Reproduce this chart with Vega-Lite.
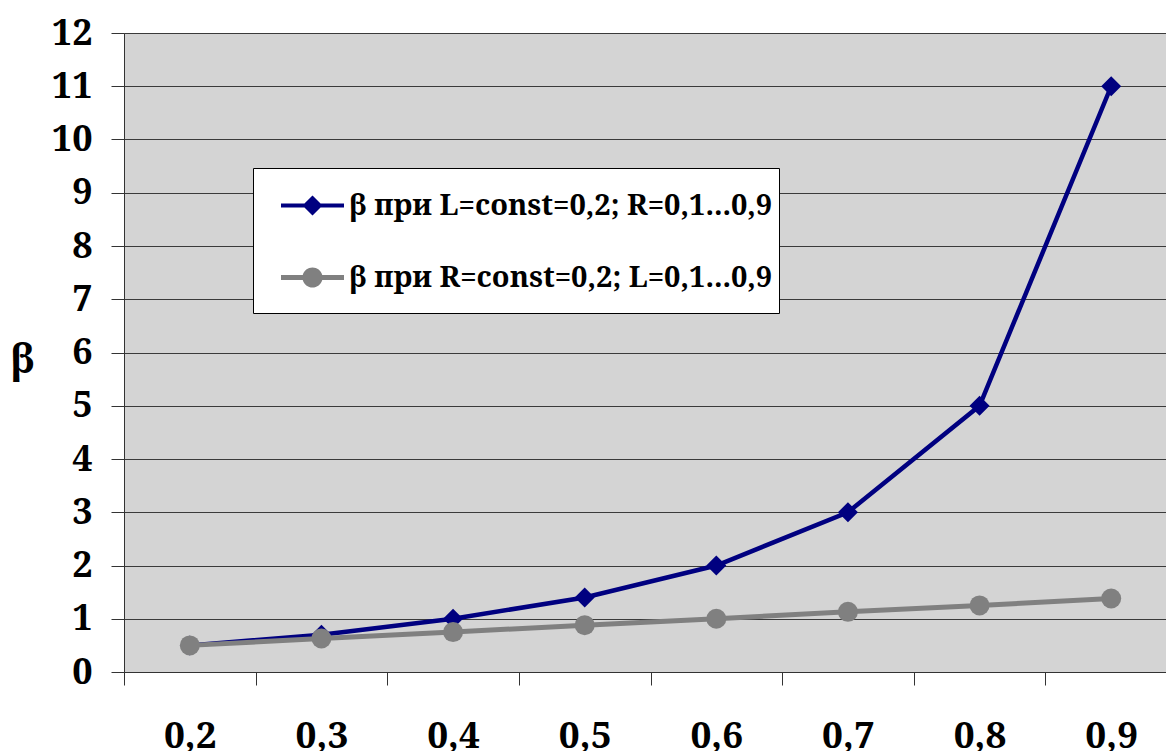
{
  "$schema": "https://vega.github.io/schema/vega-lite/v6.json",
  "autosize": {"type": "none"},
  "padding": {"left": 124, "top": 33, "right": 0, "bottom": 79},
  "width": 1042,
  "height": 639,
  "background": "white",
  "config": {
    "view": {"fill": "#d4d4d4", "stroke": "#8c8c8c", "strokeWidth": 1}
  },
  "data": {
    "values": [
      {"x": "0,2", "s": "L", "series": "β при L=const=0,2; R=0,1...0,9", "beta": 0.5},
      {"x": "0,3", "s": "L", "series": "β при L=const=0,2; R=0,1...0,9", "beta": 0.7},
      {"x": "0,4", "s": "L", "series": "β при L=const=0,2; R=0,1...0,9", "beta": 1.0},
      {"x": "0,5", "s": "L", "series": "β при L=const=0,2; R=0,1...0,9", "beta": 1.4},
      {"x": "0,6", "s": "L", "series": "β при L=const=0,2; R=0,1...0,9", "beta": 2.0},
      {"x": "0,7", "s": "L", "series": "β при L=const=0,2; R=0,1...0,9", "beta": 3.0},
      {"x": "0,8", "s": "L", "series": "β при L=const=0,2; R=0,1...0,9", "beta": 5.0},
      {"x": "0,9", "s": "L", "series": "β при L=const=0,2; R=0,1...0,9", "beta": 11.0},
      {"x": "0,2", "s": "R", "series": "β при R=const=0,2; L=0,1...0,9", "beta": 0.5},
      {"x": "0,3", "s": "R", "series": "β при R=const=0,2; L=0,1...0,9", "beta": 0.63},
      {"x": "0,4", "s": "R", "series": "β при R=const=0,2; L=0,1...0,9", "beta": 0.75},
      {"x": "0,5", "s": "R", "series": "β при R=const=0,2; L=0,1...0,9", "beta": 0.88},
      {"x": "0,6", "s": "R", "series": "β при R=const=0,2; L=0,1...0,9", "beta": 1.0},
      {"x": "0,7", "s": "R", "series": "β при R=const=0,2; L=0,1...0,9", "beta": 1.13},
      {"x": "0,8", "s": "R", "series": "β при R=const=0,2; L=0,1...0,9", "beta": 1.25},
      {"x": "0,9", "s": "R", "series": "β при R=const=0,2; L=0,1...0,9", "beta": 1.38}
    ]
  },
  "encoding": {
    "x": {
      "field": "x", "type": "ordinal", "sort": null,
      "scale": {"type": "band", "range": [0, 1053], "paddingInner": 0, "paddingOuter": 0},
      "axis": {
        "title": null, "tickBand": "extent", "tickSize": 13, "labelPadding": 33,
        "labelFontSize": 37, "labelFontWeight": "bold", "labelColor": "black", "labelAngle": 0,
        "labelFont": "Noto Serif",
        "domainColor": "#333333", "tickColor": "#333333", "grid": false
      }
    },
    "y": {
      "field": "beta", "type": "quantitative",
      "scale": {"domain": [0, 12], "nice": false, "zero": true},
      "axis": {
        "title": "β", "titleAngle": 0, "titleFontSize": 40, "titleFontWeight": "bold",
        "titleFont": "Noto Serif", "titleColor": "black",
        "titleX": -102, "titleY": 327, "titleAlign": "center", "titleBaseline": "middle",
        "values": [0, 1, 2, 3, 4, 5, 6, 7, 8, 9, 10, 11, 12],
        "tickSize": 13, "labelPadding": 19, "labelFontSize": 36, "labelFontWeight": "bold",
        "labelFont": "Noto Serif", "labelColor": "black",
        "grid": true, "gridColor": "#3a3a3a", "gridOpacity": 1,
        "domainColor": "#333333", "tickColor": "#333333"
      }
    }
  },
  "layer": [
    {
      "transform": [{"filter": "datum.s === 'L'"}],
      "mark": {"type": "line", "color": "#000080", "strokeWidth": 4.5}
    },
    {
      "transform": [{"filter": "datum.s === 'L'"}],
      "mark": {"type": "point", "shape": "diamond", "filled": true, "size": 400, "color": "#000080", "opacity": 1}
    },
    {
      "transform": [{"filter": "datum.s === 'R'"}],
      "mark": {"type": "line", "color": "#808080", "strokeWidth": 5}
    },
    {
      "transform": [{"filter": "datum.s === 'R'"}],
      "mark": {"type": "point", "shape": "circle", "filled": true, "size": 400, "color": "#808080", "opacity": 1}
    },
    {
      "mark": {"type": "point", "filled": true, "opacity": 0},
      "encoding": {
        "color": {
          "field": "series", "type": "nominal",
          "scale": {"domain": ["β при L=const=0,2; R=0,1...0,9", "β при R=const=0,2; L=0,1...0,9"], "range": ["#000080", "#808080"]},
          "legend": {
            "title": " ", "titleOrient": "bottom", "titleFontSize": 8, "titlePadding": 6,
            "orient": "none", "legendX": 129, "legendY": 135,
            "fillColor": "white", "strokeColor": "black", "padding": 6,
            "symbolSize": 3969, "symbolStrokeWidth": 0, "symbolOffset": 22, "symbolOpacity": 1,
            "labelFont": "Noto Serif", "labelFontSize": 29, "labelFontWeight": "bold",
            "labelColor": "black", "labelOffset": 5, "rowPadding": 25, "labelLimit": 0
          }
        },
        "shape": {
          "field": "series", "type": "nominal",
          "scale": {"domain": ["β при L=const=0,2; R=0,1...0,9", "β при R=const=0,2; L=0,1...0,9"],
            "range": ["M-1,-0.065H-0.255L0,-0.32L0.255,-0.065H1V0.065H0.255L0,0.32L-0.255,0.065H-1Z",
                      "M-1,-0.08H-0.31A0.32,0.32 0 0 1 0.31,-0.08H1V0.08H0.31A0.32,0.32 0 0 1 -0.31,0.08H-1Z"]},
          "legend": {
            "title": " ", "titleOrient": "bottom", "titleFontSize": 8, "titlePadding": 6,
            "orient": "none", "legendX": 129, "legendY": 135,
            "fillColor": "white", "strokeColor": "black", "padding": 6,
            "symbolSize": 3969, "symbolStrokeWidth": 0, "symbolOffset": 22, "symbolOpacity": 1,
            "labelFont": "Noto Serif", "labelFontSize": 29, "labelFontWeight": "bold",
            "labelColor": "black", "labelOffset": 5, "rowPadding": 25, "labelLimit": 0
          }
        }
      }
    }
  ]
}
